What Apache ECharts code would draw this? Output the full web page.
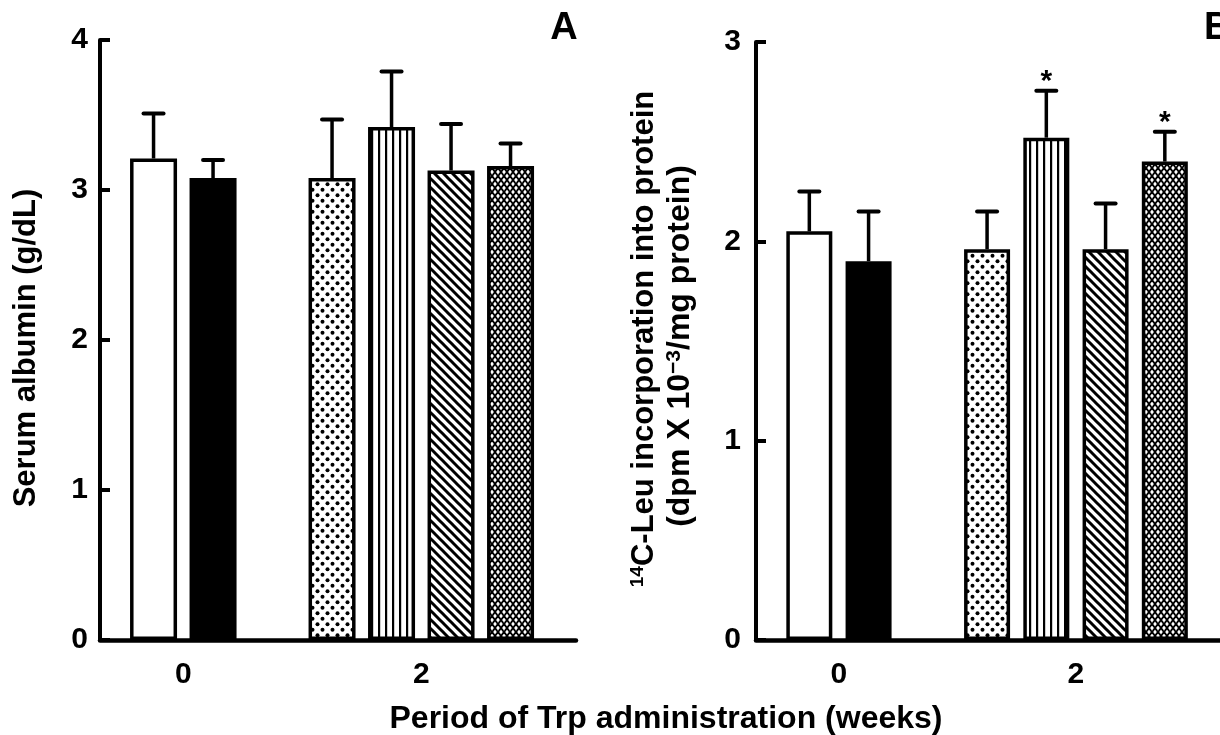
<!DOCTYPE html>
<html><head><meta charset="utf-8">
<script src="https://cdn.jsdelivr.net/npm/echarts@6/dist/echarts.min.js"></script>
<style>html,body{margin:0;padding:0;background:#fff}#c{width:1220px;height:735px}</style>
</head><body><div id="c"></div>
<script>
// ---------------- data ----------------
const categories = ['0', '2'];                       // weeks of Trp administration
const barGroup = [0, 0, 1, 1, 1, 1];                 // category index of each bar
const barPattern = ['white', 'black', 'dots', 'vlines', 'diag', 'cross'];
const albuminMean = [3.21, 3.08, 3.08, 3.42, 3.13, 3.16];
const albuminSE   = [0.30, 0.12, 0.39, 0.37, 0.31, 0.15];
const leuMean = [2.05, 1.90, 1.96, 2.52, 1.96, 2.40];
const leuSE   = [0.20, 0.25, 0.19, 0.235, 0.23, 0.15];
const leuStar = [0, 0, 0, 1, 0, 1];
const albuminTicks = [0, 1, 2, 3, 4];
const leuTicks = [0, 1, 2, 3];

// ---------------- layout / styles ----------------
const FONT = '"Liberation Sans", Arial, Helvetica, sans-serif';
const groupCenters = [1.4, 5.4];
function barX(i) {
  const g = barGroup[i];
  const members = barGroup.map((v, k) => v === g ? k : -1).filter(k => k >= 0);
  const pos = members.indexOf(i);
  return groupCenters[g] + (pos - (members.length - 1) / 2);
}

function makePattern(kind) {
  const c = document.createElement('canvas');
  let w = 10, h = 10;
  if (kind === 'dots') { w = 10; h = 11; }
  if (kind === 'vlines') { w = 7; h = 4; }
  if (kind === 'diag') { w = 9; h = 9; }
  if (kind === 'cross') { w = 6; h = 8; }
  c.width = w; c.height = h;
  const ctx = c.getContext('2d');
  ctx.fillStyle = '#fff'; ctx.fillRect(0, 0, w, h);
  ctx.fillStyle = '#000'; ctx.strokeStyle = '#000';
  if (kind === 'dots') {
    [[2.5, 2.75], [7.5, 8.25]].forEach(p => { ctx.beginPath(); ctx.arc(p[0], p[1], 2.0, 0, Math.PI * 2); ctx.fill(); });
  } else if (kind === 'vlines') {
    ctx.fillRect(0, 0, 2.2, h);
  } else if (kind === 'diag') {
    ctx.lineWidth = 3;
    for (let dx = -w; dx <= w; dx += w) {
      ctx.beginPath(); ctx.moveTo(dx - 2, -2); ctx.lineTo(dx + w + 2, h + 2); ctx.stroke();
    }
  } else if (kind === 'cross') {
    ctx.lineWidth = 1.9;
    for (let dx = -w; dx <= w; dx += w) for (let dy = -h; dy <= h; dy += h) {
      ctx.beginPath(); ctx.moveTo(dx, dy); ctx.lineTo(dx + w, dy + h); ctx.stroke();
      ctx.beginPath(); ctx.moveTo(dx + w, dy); ctx.lineTo(dx, dy + h); ctx.stroke();
    }
  }
  return { image: c, repeat: 'repeat' };
}
function fillFor(kind) {
  if (kind === 'white') return '#fff';
  if (kind === 'black') return '#000';
  return makePattern(kind);
}

function barData(means) {
  return means.map((m, i) => ({
    value: [barX(i), m],
    itemStyle: { color: fillFor(barPattern[i]), borderColor: '#000', borderWidth: 3.5 }
  }));
}
function errData(means, ses, stars) {
  return means.map((m, i) => [barX(i), m, ses[i], stars ? stars[i] : 0]);
}
function renderErr(params, api) {
  const x = api.value(0), m = api.value(1), s = api.value(2), star = api.value(3);
  const p0 = api.coord([x, m]);
  const p1 = api.coord([x, m + s]);
  const children = [
    { type: 'line', shape: { x1: p0[0], y1: p0[1], x2: p1[0], y2: p1[1] }, style: { stroke: '#000', lineWidth: 3.5 } },
    { type: 'line', shape: { x1: p1[0] - 10, y1: p1[1], x2: p1[0] + 10, y2: p1[1] }, style: { stroke: '#000', lineWidth: 4, lineCap: 'round' } }
  ];
  if (star) {
    children.push({ type: 'text', x: p1[0], y: p1[1] - 9,
      style: { text: '*', font: 'bold 30px ' + FONT, fill: '#000', align: 'center', verticalAlign: 'middle' } });
  }
  return { type: 'group', children };
}

function yAxisCfg(grid, max, ticks, margin) {
  return {
    gridIndex: grid, type: 'value', min: 0, max: max, interval: 1,
    axisLine: { show: true, lineStyle: { color: '#000', width: 4 } },
    axisTick: { show: true, inside: true, length: 10, customValues: ticks, lineStyle: { color: '#000', width: 4 } },
    axisLabel: { customValues: ticks, color: '#000', fontSize: 30, fontWeight: 'bold', fontFamily: FONT, margin: margin },
    splitLine: { show: false }
  };
}
function xAxisCfg(grid) {
  return {
    gridIndex: grid, type: 'value', min: 0, max: 8,
    axisLine: { show: true, lineStyle: { color: '#000', width: 4.5 } },
    axisTick: { show: false },
    splitLine: { show: false },
    axisLabel: {
      customValues: groupCenters, color: '#000', fontSize: 30, fontWeight: 'bold', fontFamily: FONT, margin: 20,
      formatter: v => { const k = groupCenters.findIndex(c => Math.abs(c - v) < 1e-6); return k >= 0 ? categories[k] : ''; }
    }
  };
}

const chart = echarts.init(document.getElementById('c'), null, { renderer: 'canvas' });
chart.setOption({
  animation: false,
  backgroundColor: '#fff',
  grid: [
    { left: 100, top: 40, width: 476, height: 600, containLabel: false, outerBoundsMode: 'none' },
    { left: 756, top: 42, width: 474, height: 598, containLabel: false, outerBoundsMode: 'none' }
  ],
  xAxis: [xAxisCfg(0), xAxisCfg(1)],
  yAxis: [yAxisCfg(0, 4, albuminTicks, 12), yAxisCfg(1, 3, leuTicks, 15)],
  series: [
    { type: 'bar', xAxisIndex: 0, yAxisIndex: 0, barWidth: 47, data: barData(albuminMean), z: 2 },
    { type: 'custom', xAxisIndex: 0, yAxisIndex: 0, renderItem: renderErr, data: errData(albuminMean, albuminSE, null), z: 3 },
    { type: 'bar', xAxisIndex: 1, yAxisIndex: 1, barWidth: 46, data: barData(leuMean), z: 2 },
    { type: 'custom', xAxisIndex: 1, yAxisIndex: 1, renderItem: renderErr, data: errData(leuMean, leuSE, leuStar), z: 3 }
  ],
  graphic: [
    { type: 'text', x: 26, y: 348, rotation: Math.PI / 2,
      style: { text: 'Serum albumin (g/dL)', font: 'bold 31px ' + FONT, fill: '#000', align: 'center', verticalAlign: 'middle' } },
    { type: 'text', x: 644, y: 339, rotation: Math.PI / 2,
      style: { text: '{s|14}C-Leu incorporation into protein', font: 'bold 31px ' + FONT, fill: '#000', align: 'center', verticalAlign: 'middle',
        rich: { s: { font: 'bold 19px ' + FONT, verticalAlign: 'top', fill: '#000' } } } },
    { type: 'text', x: 680, y: 346, rotation: Math.PI / 2,
      style: { text: '(dpm X 10{s|−3}/mg protein)', font: 'bold 32px ' + FONT, fill: '#000', align: 'center', verticalAlign: 'middle',
        rich: { s: { font: 'bold 21px ' + FONT, verticalAlign: 'top', fill: '#000' } } } },
    { type: 'text', x: 666, y: 719,
      style: { text: 'Period of Trp administration (weeks)', font: 'bold 32px ' + FONT, fill: '#000', align: 'center', verticalAlign: 'middle' } },
    { type: 'text', x: 564, y: 29,
      style: { text: 'A', font: 'bold 38px ' + FONT, fill: '#000', align: 'center', verticalAlign: 'middle' } },
    { type: 'text', x: 1204, y: 29,
      style: { text: 'B', font: 'bold 38px ' + FONT, fill: '#000', align: 'left', verticalAlign: 'middle' } }
  ]
});
</script>
</body></html>
